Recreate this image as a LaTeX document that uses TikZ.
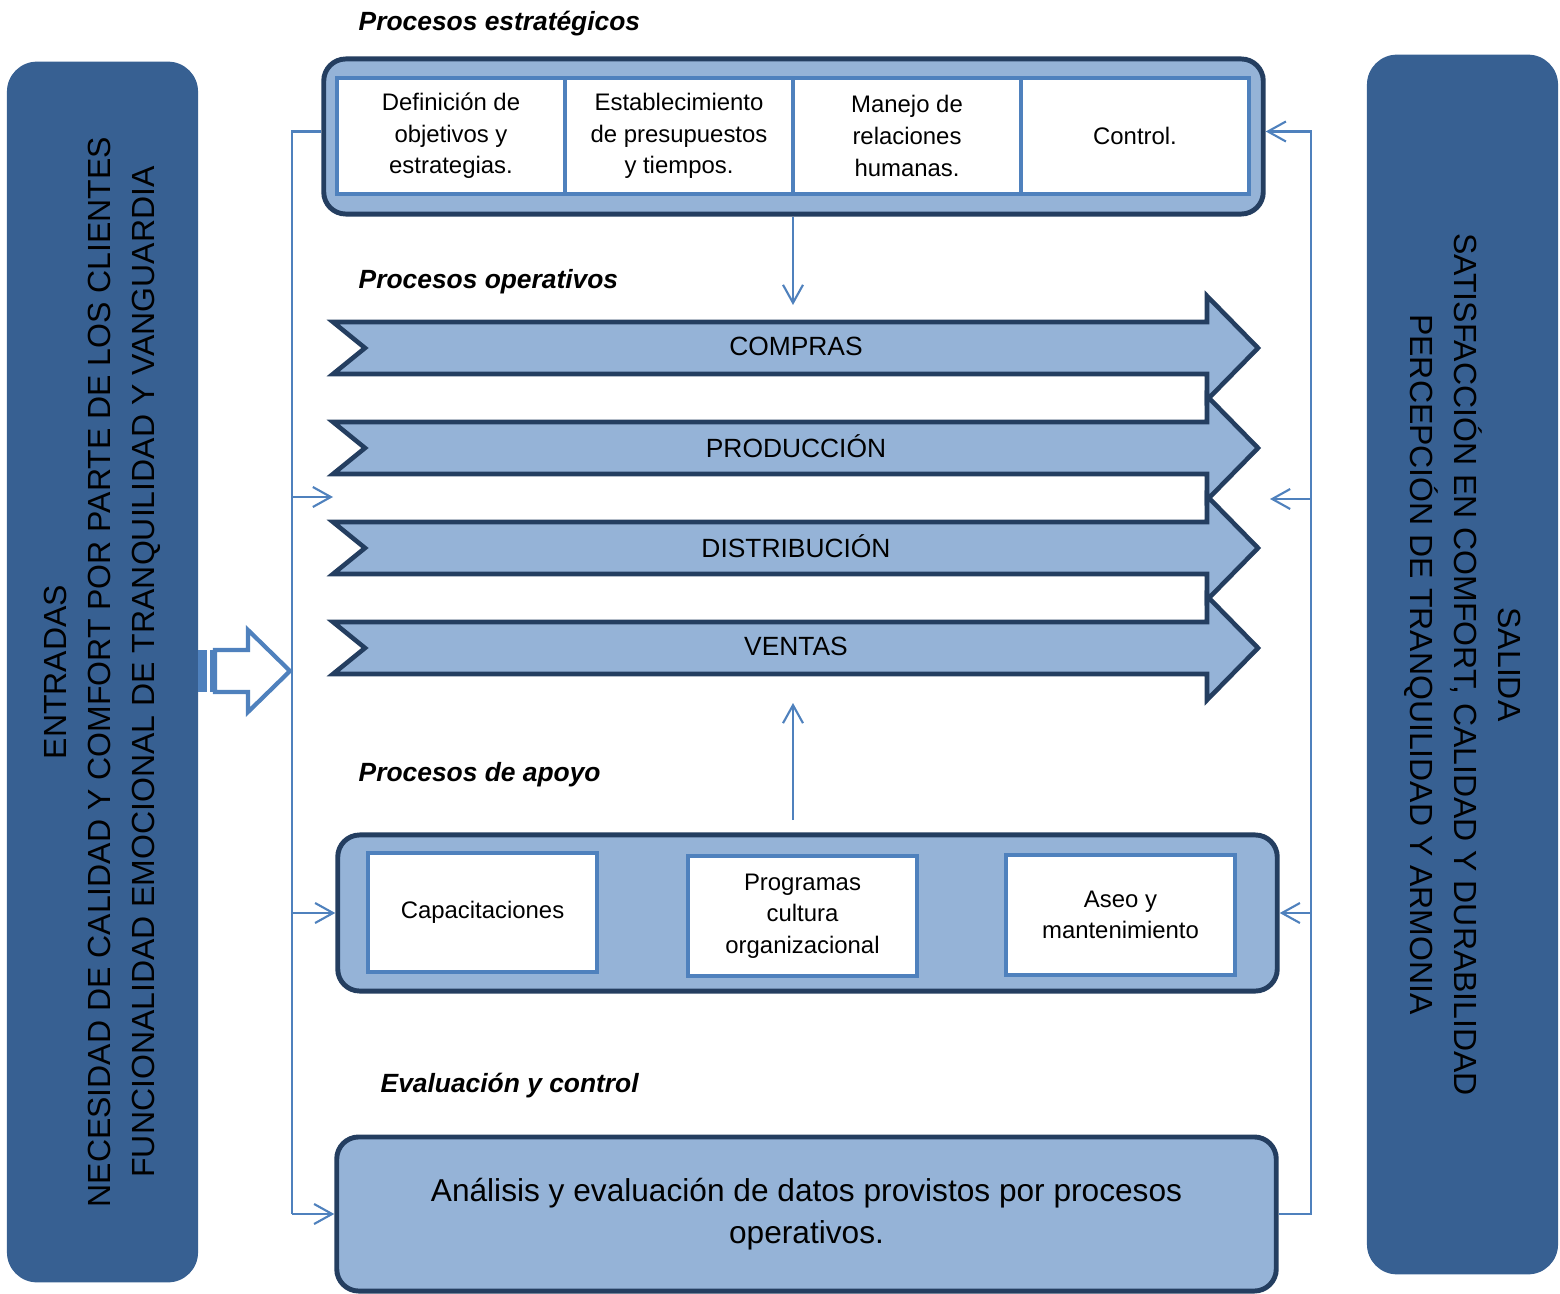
\documentclass[tikz,border=0pt]{standalone}
\usepackage{fontspec}
\setmainfont{Liberation Sans}
\usetikzlibrary{arrows.meta,calc}

\definecolor{azulcolumna}{RGB}{55,96,146}
\definecolor{azulborde}{RGB}{36,62,96}
\definecolor{celeste}{RGB}{149,179,215}
\definecolor{acento}{RGB}{79,129,189}

\tikzset{
  columna/.style={fill=azulcolumna, rounded corners=0.3cm, align=center, font=\fontsize{9.1}{12.5}\selectfont, minimum width=12.2cm, minimum height=1.91cm, inner sep=0pt},
  contenedor/.style={draw=azulborde, fill=celeste, line width=1.4pt, rounded corners=0.22cm, minimum width=9.39cm, minimum height=1.53cm},
  tarea/.style={draw=acento, fill=white, line width=1.3pt, align=center, font=\fontsize{6.8}{9}\selectfont, minimum width=2.28cm, minimum height=1.16cm, inner sep=0pt},
  flecha/.style={draw=azulborde, fill=celeste, line width=1.3pt, miter limit=10},
  etiqueta/.style={font=\fontsize{7.5}{9}\selectfont},
  seccion/.style={anchor=west, inner sep=0pt, font=\fontsize{7.5}{9}\selectfont\bfseries\itshape},
  enlace/.style={draw=acento, line width=0.6pt, -{Straight Barb[length=1.8mm,width=2mm]}},
}

\begin{document}
\begin{tikzpicture}[x=0.01cm, y=-0.01cm]
		\useasboundingbox (0,0) rectangle (1560,1294);
		
		% Input and output columns
		\node[columna, rotate=90] (entradas) at (102.5,672) {ENTRADAS\\NECESIDAD DE CALIDAD Y COMFORT POR PARTE DE LOS CLIENTES\\FUNCIONALIDAD EMOCIONAL DE TRANQUILIDAD Y VANGUARDIA};
		\node[columna, rotate=-90, minimum width=12.19cm] (salida) at (1462.5,664.5) {SALIDA\\SATISFACCIÓN EN COMFORT, CALIDAD Y DURABILIDAD\\PERCEPCIÓN DE TRANQUILIDAD Y ARMONIA};
		
		% Striped entry arrow
		\fill[acento] (198,650) rectangle (207,692);
		\fill[acento] (210,650) rectangle (214,692);
		\draw[acento, line width=1.2pt, fill=white] (215,650) -- (248,650) -- (248,630) -- (290,671) -- (248,712) -- (248,692) -- (215,692) -- cycle;
		
		% Strategic processes
		\node[seccion] (lblestrat) at (358,24) {Procesos estratégicos};
		\node[contenedor, minimum height=1.55cm] (estrat) at (793.5,136.5) {};
		\node[tarea] (objetivos) at (451,136) {Definición de\\objetivos y\\estrategias.};
		\node[tarea] (presupuestos) at (679,136) {Establecimiento\\de presupuestos\\y tiempos.};
		\node[tarea] (relaciones) at (907,136) {Manejo de\\relaciones\\humanas.};
		\node[tarea] (control) at (1135,136) {Control.};
		
		% Operative processes
		\node[seccion] (lbloper) at (358,282) {Procesos operativos};
		\foreach \nombre/\texto [count=\i from 0] in {compras/COMPRAS, produccion/PRODUCCIÓN, distribucion/DISTRIBUCIÓN, ventas/VENTAS}{
			\pgfmathsetmacro{\yc}{348+100*\i}
			\draw[flecha] (333,\yc-26) -- (1207,\yc-26) -- (1207,\yc-52) -- (1258,\yc) -- (1207,\yc+52) -- (1207,\yc+26) -- (333,\yc+26) -- (365,\yc) -- cycle;
			\node[etiqueta] (\nombre) at (796,\yc-2) {\texto};
		}
		
		% Support processes
		\node[seccion] (lblapoyo) at (358,775) {Procesos de apoyo};
		\node[contenedor, minimum height=1.56cm] (apoyo) at (807.5,913) {};
		\node[tarea, minimum width=2.29cm, minimum height=1.19cm] (capacitaciones) at (482.5,912.5) {Capacitaciones};
		\node[tarea, minimum width=2.29cm, minimum height=1.2cm] (programas) at (802.5,916) {Programas\\cultura\\organizacional};
		\node[tarea, minimum width=2.29cm, minimum height=1.2cm] (aseo) at (1120.5,915) {Aseo y\\mantenimiento};
		
		% Evaluation and control
		\node[seccion] (lbleval) at (380,1086) {Evaluación y control};
		\node[contenedor, minimum height=1.54cm, align=center, font=\fontsize{9}{11.9}\selectfont] (evaluacion) at (806.5,1214) {Análisis y evaluación de datos provistos por procesos\\operativos.};
		
		% Connectors
		\coordinate (busizq) at (292,0);
		\coordinate (busder) at (1311,0);
		\coordinate (estratizq) at ($(estrat.west)+(0,-5)$);
		\coordinate (estratder) at ($(estrat.east)+(0,-5)$);
		\coordinate (operizq) at (333,497);
		\coordinate (operder) at (1270,499);
		\coordinate (bajada) at (793,305);
		\coordinate (subida) at (793,703);
		\coordinate (apoyoarriba) at (793,820);
		
		\draw[enlace,-] (estratizq) -| (busizq |- evaluacion.west);
		\draw[enlace] (busizq |- operizq) -- (operizq);
		\draw[enlace] (busizq |- apoyo.west) -- (apoyo.west);
		\draw[enlace] (busizq |- evaluacion.west) -- (evaluacion.west);
		
		\draw[enlace] (evaluacion.east) -| (busder |- estratder) -- (estratder);
		\draw[enlace] (busder |- operder) -- (operder);
		\draw[enlace] (busder |- apoyo.east) -- (apoyo.east);
		
		\draw[enlace] (estrat.south -| bajada) -- (bajada);
		\draw[enlace] (apoyoarriba) -- (subida);
	\end{tikzpicture}
\end{document}
